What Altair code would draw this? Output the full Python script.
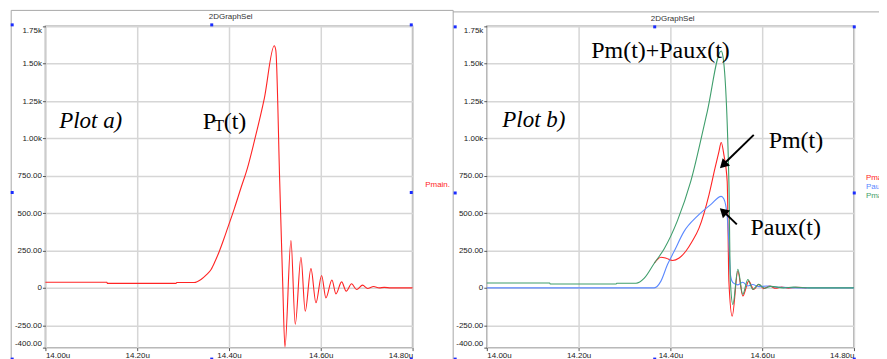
import altair as alt
import pandas as pd

# ---------------- data ----------------
# Plot a) total power P_T(t), time in microseconds
pt_time = [14.000, 14.134, 14.135, 14.285, 14.286, 14.324, 14.339, 14.350, 14.361, 14.370,
           14.379, 14.388, 14.397, 14.412, 14.426, 14.440, 14.455, 14.477, 14.4986, 14.502,
           14.5105, 14.5169, 14.5219, 14.5350, 14.5444, 14.5568, 14.5661, 14.5786, 14.5895, 14.6018,
           14.6112, 14.6243, 14.6330, 14.6454, 14.6554, 14.6672, 14.6781, 14.6911, 14.7020, 14.7151,
           14.7273, 14.7382, 14.7527, 14.800]
pt_power = [38, 38, 30, 30, 36, 36, 56, 85, 123, 180,
            245, 320, 400, 534, 668, 800, 979, 1268, 1620, 1590,
            712, 45, -395, 316, -244, 205, -156, 129, -100, 83,
            -67, 53, -40, 40, -22, 27, -11, 18, -4, 9,
            0, 3, 0, 0]

# Plot b) Pm(t)+Paux(t)
sum_time = [14.000, 14.137, 14.138, 14.282, 14.283, 14.3252, 14.3432, 14.3649, 14.3866, 14.4154,
            14.4444, 14.4804, 14.5108, 14.5145, 14.5275, 14.5307, 14.5362, 14.5470, 14.5578, 14.5687,
            14.5795, 14.5925, 14.6055, 14.6185, 14.6467, 14.6684, 14.7010, 14.800]
sum_power = [33, 33, 26, 26, 31, 31, 65, 165, 262, 450,
             712, 1180, 1585, 1550, 712, 45, -111, 125, -44, 56,
             -10, 23, -3, 10, 0, 5, 0, 0]

# Plot b) Pm(t) (hidden under the green curve before it separates)
pm_time = [14.3649, 14.3794, 14.3909,
           14.4046, 14.4191, 14.4336, 14.4473, 14.4624, 14.4841, 14.4971, 14.5058, 14.5108, 14.5166,
           14.5238, 14.5275, 14.5347, 14.5470, 14.5578, 14.5708, 14.5816, 14.5925, 14.6033, 14.6163,
           14.6293, 14.6423, 14.6575, 14.6727, 14.6966]
pm_power = [165, 205, 198,
            183, 200, 245, 310, 400, 623, 800, 912, 973, 890,
            712, 45, -189, 111, -55, 45, -11, 23, -5, 12,
            -3, 6, -2, 3, 0]

# Plot b) Paux(t)
paux_time = [14.000, 14.3649, 14.3794, 14.3937, 14.4083, 14.4299, 14.4588, 14.4878, 14.5108, 14.5166,
             14.5238, 14.5275, 14.5312, 14.5362, 14.5470, 14.5578, 14.5687, 14.5795, 14.5925, 14.6100,
             14.6400, 14.6792, 14.800]
paux_power = [0, 0, 45, 156, 245, 378, 480, 557, 612, 595,
              480, 300, 80, 35, 20, 38, 12, 22, 8, 12,
              3, 0, 0]

y_ticks = [1750, 1500, 1250, 1000, 750, 500, 250, 0, -250, -400]
y_tick_labels = ["1.75k", "1.50k", "1.25k", "1.00k", "750.00", "500.00", "250.00", "0", "-250.00", "-400.00"]
x_ticks = [14.0, 14.2, 14.4, 14.6, 14.8]
x_tick_labels = ["14.00u", "14.20u", "14.40u", "14.60u", "14.80u"]

# annotations
ann_a_italic = ["Plot a)"]
ann_b_italic = ["Plot b)"]
legend_a = ["Pmain."]
legend_b = ["Pmain", "Paux", "Pmain+Paux"]

# ---------------- style ----------------
RED = "#ff2424"
BLUE = "#5a88ff"
GREEN = "#3f9e6c"
GRID = "#d6d6d6"
FRAME = "#a8a8a8"
HANDLE = "#1a2cff"
W, H = 368, 322


def label_expr(values, labels):
    expr = "''"
    for v, lab in reversed(list(zip(values, labels))):
        expr = f"(abs(datum.value - ({v})) < 1e-6) ? '{lab}' : ({expr})"
    return expr


axis_common = dict(title=None, grid=True, gridColor=GRID, gridWidth=1.5, domain=False,
                   tickSize=3, tickColor="#555555", labelFont="Liberation Sans",
                   labelFontSize=8, labelColor="#222222", labelFlush=True,
                   labelPadding=1, labelOverlap=False)
x_axis = alt.Axis(values=x_ticks, labelExpr=label_expr(x_ticks, x_tick_labels), **axis_common)
y_axis = alt.Axis(values=y_ticks, labelExpr=label_expr(y_ticks, y_tick_labels), **axis_common)

X = alt.X("t:Q", scale=alt.Scale(domain=[14.0, 14.8], nice=False, zero=False), axis=x_axis)
Y = alt.Y("v:Q", scale=alt.Scale(domain=[-400, 1750], nice=False, zero=False), axis=y_axis)


def series(times, values, color):
    df = pd.DataFrame({"t": times, "v": values})
    return alt.Chart(df).mark_line(color=color, strokeWidth=1.1, interpolate="monotone").encode(x=X, y=Y)


def text_at(t, v, label, **kw):
    df = pd.DataFrame({"t": [t], "v": [v], "label": [label]})
    return alt.Chart(df).mark_text(**kw).encode(x=X, y=Y, text="label:N")


ONE = alt.Data(values=[{"k": 1}])


def decorations(fx, ftop_v, fbottom, fright, ftop_h, hxs, hys, title_xy):
    layers = []
    layers.append(alt.Chart(ONE).mark_rule(color=FRAME, strokeWidth=1).encode(
        x=alt.value(fx), y=alt.value(ftop_v), y2=alt.value(fbottom)))
    layers.append(alt.Chart(ONE).mark_rule(color=FRAME, strokeWidth=1).encode(
        x=alt.value(fx), x2=alt.value(fright), y=alt.value(ftop_h)))
    for i, hx in enumerate(hxs):
        for j, hy in enumerate(hys):
            if i == 1 and j == 1:
                continue
            layers.append(alt.Chart(ONE).mark_square(size=9, color=HANDLE, opacity=1).encode(
                x=alt.value(hx), y=alt.value(hy)))
    layers.append(alt.Chart(ONE).mark_text(fontSize=8, font="Liberation Sans", color="#333333",
                                           baseline="middle", align="center").encode(
        x=alt.value(title_xy[0]), y=alt.value(title_xy[1]), text=alt.value("2DGraphSel")))
    return layers


serif = dict(font="Liberation Serif", color="black", align="left", baseline="alphabetic")

# ---------------- panel a ----------------
layers_a = [series(pt_time, pt_power, RED)]
layers_a.append(text_at(14.030, 1073, ann_a_italic[0], fontSize=23, fontStyle="italic", **serif))
layers_a.append(text_at(14.3427, 1066, "P", fontSize=24, **serif))
layers_a.append(text_at(14.3679, 1051, "T", fontSize=16, **serif))
layers_a.append(text_at(14.3885, 1066, "(t)", fontSize=24, **serif))
layers_a.append(text_at(14.8275, 686, legend_a[0], fontSize=8, font="Liberation Sans", color=RED,
                        align="left", baseline="middle"))
layers_a += decorations(-34.3, -16, 334, 408.7, -16,
                        [-33.3, 166.7, 366.7], [-1.5, 166.5, 333.5], (185.7, -9.5))
panel_a = alt.layer(*layers_a).properties(width=W, height=H)

# ---------------- panel b ----------------
layers_b = [series(pm_time, pm_power, RED),
            series(paux_time, paux_power, BLUE),
            series(sum_time, sum_power, GREEN)]
layers_b.append(text_at(14.0338, 1079, ann_b_italic[0], fontSize=23, fontStyle="italic", **serif))
layers_b.append(text_at(14.2276, 1535, "Pm(t)+Paux(t)", fontSize=24, **serif))
layers_b.append(text_at(14.6142, 935, "Pm(t)", fontSize=24, **serif))
layers_b.append(text_at(14.5745, 357, "Paux(t)", fontSize=24, **serif))

arrow_df = pd.DataFrame({"t": [14.5817, 14.5448], "v": [1024, 425],
                         "t2": [14.5120, 14.5120], "v2": [815, 522]})
layers_b.append(alt.Chart(arrow_df).mark_rule(color="black", strokeWidth=2).encode(
    x=X, y=Y, x2="t2:Q", y2="v2:Q"))
head1 = pd.DataFrame({"t": [14.5150], "v": [822]})
head2 = pd.DataFrame({"t": [14.5150], "v": [512]})
layers_b.append(alt.Chart(head1).mark_point(shape="triangle-up", filled=True, size=110, color="black",
                                            opacity=1, angle=225).encode(x=X, y=Y))
layers_b.append(alt.Chart(head2).mark_point(shape="triangle-up", filled=True, size=110, color="black",
                                            opacity=1, angle=313).encode(x=X, y=Y))
for lab, val, col in zip(legend_b, [734, 674, 617], [RED, BLUE, GREEN]):
    layers_b.append(text_at(14.826, val, lab, fontSize=8, font="Liberation Sans", color=col,
                            align="left", baseline="middle", limit=19, ellipsis="\u200b"))
layers_b += decorations(-33.7, -16, 334, 400.3, -14.5,
                        [-31.7, 168.3, 368.3], [0.5, 167, 333.5], (186.3, -7.5))
panel_b = alt.layer(*layers_b).properties(width=W, height=H)

chart = alt.hconcat(panel_a, panel_b, spacing=74.4, bounds="flush").properties(
    padding={"left": 1.5, "top": 0, "right": -8.5, "bottom": 0}
).configure_view(stroke="#9c9c9c", strokeWidth=1.5)

chart.save("out.html", embed_options={"renderer": "svg", "actions": False})
